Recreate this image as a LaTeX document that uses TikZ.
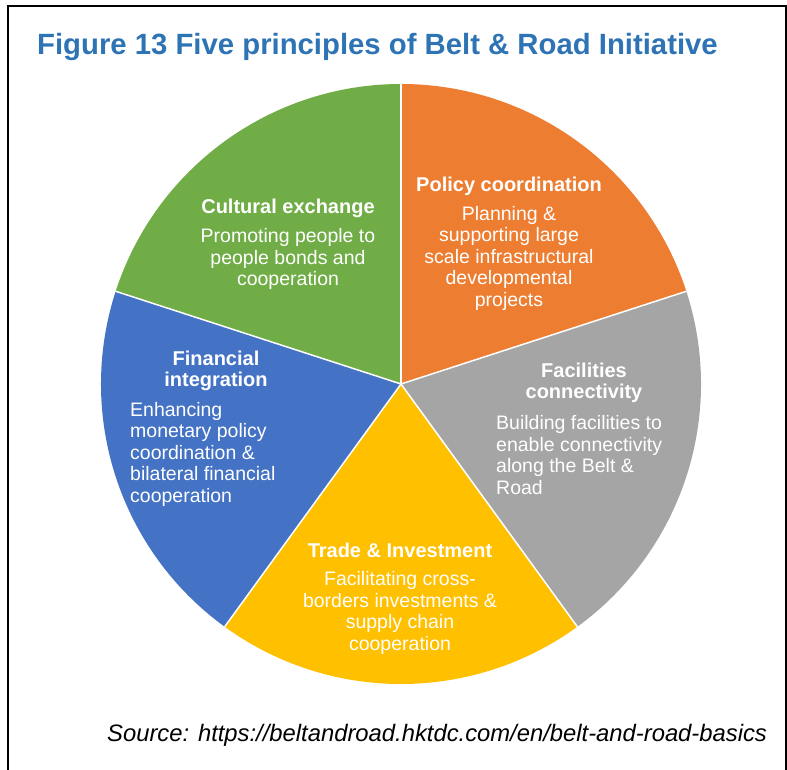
\documentclass[tikz,border=0pt]{standalone}
\usepackage{fontspec}
\setmainfont{Liberation Sans}
\usepackage{xcolor}
\usepackage{tikz}
\usetikzlibrary{calc}

\definecolor{titleblue}{RGB}{46,116,181}
\definecolor{sliceorange}{RGB}{237,125,49}
\definecolor{slicegray}{RGB}{165,165,165}
\definecolor{sliceyellow}{RGB}{255,192,0}
\definecolor{sliceblue}{RGB}{68,114,196}
\definecolor{slicegreen}{RGB}{112,173,71}

\tikzset{
  head/.style={text=white, inner sep=0pt, align=center,
    font=\fontsize{20}{21.5}\selectfont\bfseries},
  body/.style={text=white, inner sep=0pt, align=center,
    font=\fontsize{19.5}{21.5}\selectfont},
  sep/.style={white, line width=1.5pt}
}

\begin{document}
\begin{tikzpicture}[x=1pt, y=1pt]
        \useasboundingbox (0,0) rectangle (787,769);

        % Frame
        \draw[line width=1.6pt] (8,-5) -- (8,763) -- (786,763) -- (786,-5);

        % Title
        \node[anchor=base west, inner sep=0pt, text=titleblue,
              font=\fontsize{29.3}{34}\selectfont\bfseries] (title) at (37,714)
              {Figure 13 Five principles of Belt \& Road Initiative};

        % Pie
        \coordinate (c) at (401,385);
        \fill[sliceorange] (c) -- ++(90:300) arc (90:18:300) -- cycle;
        \fill[slicegray] (c) -- ++(18:300) arc (18:-54:300) -- cycle;
        \fill[sliceyellow] (c) -- ++(-54:300) arc (-54:-126:300) -- cycle;
        \fill[sliceblue] (c) -- ++(-126:300) arc (-126:-198:300) -- cycle;
        \fill[slicegreen] (c) -- ++(162:300) arc (162:90:300) -- cycle;

        % Slice borders
        \draw[sep] (c) -- ++(90:300);
        \draw[sep] (c) -- ++(18:300);
        \draw[sep] (c) -- ++(-54:300);
        \draw[sep] (c) -- ++(-126:300);
        \draw[sep] (c) -- ++(162:300);

        % Labels
        \node[head] (policy) at (509,583) {Policy coordination};
        \node[body] (policytxt) at (509,511)
              {Planning \&\\supporting large\\scale infrastructural\\developmental\\projects};

        \node[head] (culture) at (288,561) {Cultural exchange};
        \node[body] (culturetxt) at (288,510)
              {Promoting people to\\people bonds and\\cooperation};

        \node[head] (finance) at (216,398) {Financial\\integration};
        \node[body, anchor=west, align=left] (financetxt) at (130,315)
              {Enhancing\\monetary policy\\coordination \&\\bilateral financial\\cooperation};

        \node[head] (facility) at (584,386) {Facilities\\connectivity};
        \node[body, anchor=west, align=left] (facilitytxt) at (496,314)
              {Building facilities to\\enable connectivity\\along the Belt \&\\Road};

        \node[head] (trade) at (400,219) {Trade \& Investment};
        \node[body] (tradetxt) at (400,156)
              {Facilitating cross-\\borders investments \&\\supply chain\\cooperation};

        % Source line
        \node[anchor=base west, inner sep=0pt, font=\fontsize{23.8}{28}\selectfont\itshape]
              (source) at (107,28)
              {Source: https://beltandroad.hktdc.com/en/belt-and-road-basics};
\end{tikzpicture}
\end{document}
